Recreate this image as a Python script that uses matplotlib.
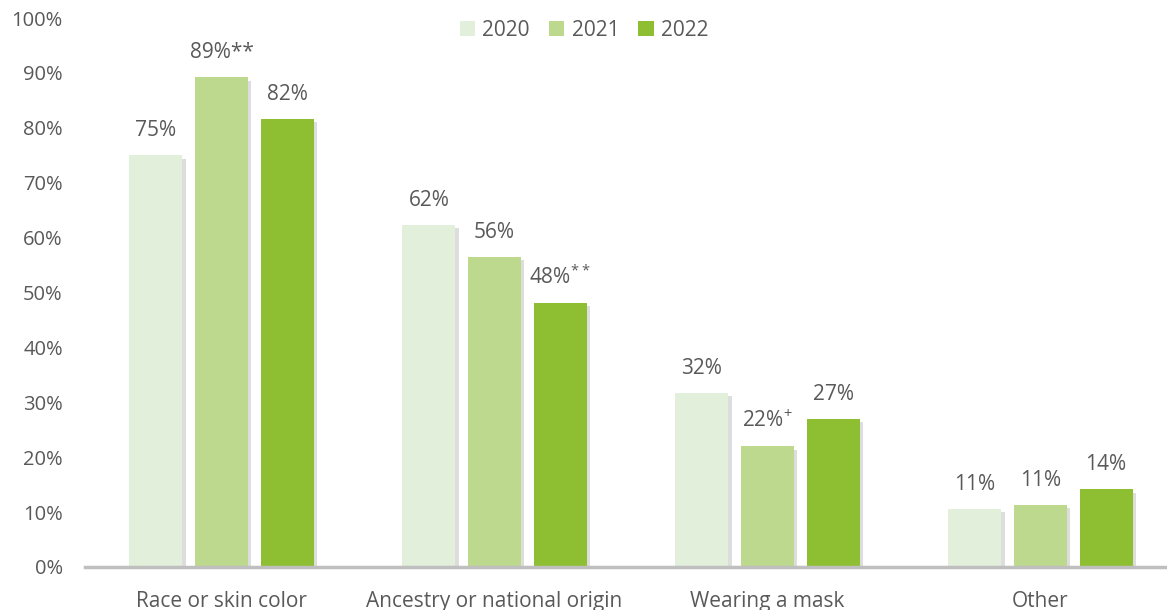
import numpy as np
import matplotlib
matplotlib.use("Agg")
import matplotlib.pyplot as plt
import matplotlib.patheffects as pe
from matplotlib.patches import Patch

plt.rcParams['font.family'] = ['Open Sans', 'DejaVu Sans']
plt.rcParams['mathtext.fontset'] = 'custom'
plt.rcParams['mathtext.rm'] = 'Open Sans'

categories = ["Race or skin color", "Ancestry or national origin", "Wearing a mask", "Other"]
years = ["2020", "2021", "2022"]
v2020 = [75.0, 62.3, 31.7, 10.6]
v2021 = [89.2, 56.5, 22.0, 11.3]
v2022 = [81.6, 48.1, 27.0, 14.2]
# significance markers appended to the value labels
marks2020 = ["", "", "", ""]
marks2021 = ["**", "", r"$^{\mathregular{+}}$", ""]
marks2022 = ["", r"$^{\mathregular{**}}$", "", ""]
colors = ["#E2EFDA", "#BDD98D", "#8EBF33"]

txt = "#595959"
fig = plt.figure(figsize=(11.67, 6.10), dpi=100)
ax = fig.add_axes([85/1167, 1 - 567/610, 1092/1167, 549/610])

x = np.arange(len(categories))
width = 0.194
step = 0.24
shadow = [pe.SimplePatchShadow(offset=(2.5, -2.5), shadow_rgbFace="#8f8f8f", alpha=0.3), pe.Normal()]
series = [v2020, v2021, v2022]
marks = [marks2020, marks2021, marks2022]
for i, (vals, mk) in enumerate(zip(series, marks)):
    bars = ax.bar(x + (i - 1) * step, vals, width, color=colors[i], label=years[i],
                  path_effects=shadow, zorder=2)
    for b, v, m in zip(bars, vals, mk):
        ax.annotate(f"{round(v)}%" + m, (b.get_x() + b.get_width() / 2, v),
                    xytext=(0, 10), textcoords="offset points", ha="center", va="bottom",
                    fontsize=15, color=txt)

ax.set_xlim(-0.5, 3.5)
ax.set_ylim(0, 100)
ax.set_yticks(np.arange(0, 101, 10))
ax.set_yticklabels([f"{t}%" for t in range(0, 101, 10)])
ax.set_xticks(x)
ax.set_xticklabels(categories)
ax.tick_params(axis="y", length=0, pad=16, labelsize=14.5, labelcolor=txt)
ax.tick_params(axis="x", length=0, pad=17, labelsize=15, labelcolor=txt)
for s in ["top", "right", "left"]:
    ax.spines[s].set_visible(False)
ax.spines["bottom"].set_color("#BFBFBF")
ax.spines["bottom"].set_linewidth(2.5)
ax.spines["bottom"].set_zorder(3)

handles = [Patch(facecolor=c, label=y) for c, y in zip(colors, years)]
leg = fig.legend(handles=handles, loc="center", bbox_to_anchor=(584/1167, 1 - 30/610), ncol=3,
                 frameon=False, fontsize=15, handlelength=0.75, handleheight=0.75,
                 handletextpad=0.35, columnspacing=0.9)
for t in leg.get_texts():
    t.set_color(txt)

fig.savefig("out.png", dpi=100)
